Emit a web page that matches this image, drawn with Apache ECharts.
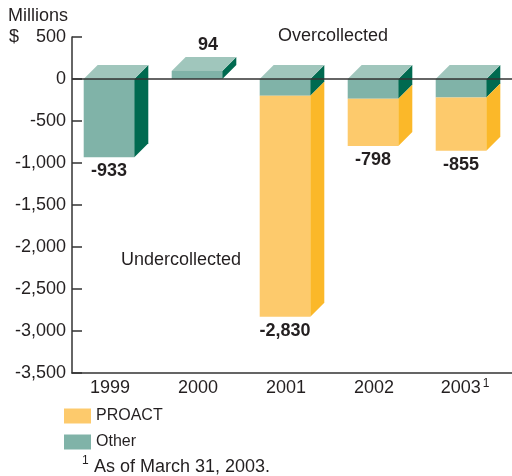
<!DOCTYPE html>
<html>
<head>
<meta charset="utf-8">
<script src="https://cdn.jsdelivr.net/npm/echarts@6/dist/echarts.min.js"></script>
<style>
  html, body { margin: 0; padding: 0; background: #fff; }
  #chart { width: 512px; height: 476px; }
</style>
</head>
<body>
<div id="chart"></div>
<script>
// Over/under-collection by year, $ millions
const years = ['1999', '2000', '2001', '2002', '2003'];
const otherValues = [-933, 94, -200, -235, -220];
const proactValues = [0, 0, -2630, -563, -635];
const yTicks = { min: -3500, max: 500, step: 500 };

const FONT = '"Liberation Sans", Arial, Helvetica, sans-serif';
const TEXT = '#231f20';

const palette = {
  other: { front: '#80b3a8', side: '#006a50', top: '#a0c6bc' },
  proact: { front: '#fdca6c', side: '#fbb829' }
};

// Rows: [categoryIndex, segmentStart, segmentEnd, labelOwner, total]
const totals = years.map((_, i) => otherValues[i] + proactValues[i]);
const otherRows = years.map((_, i) => [i, 0, otherValues[i], proactValues[i] === 0 ? 1 : 0, totals[i]]);
const proactRows = years.map((_, i) => [i, otherValues[i], otherValues[i] + proactValues[i], 1, totals[i]]);

function fmt(v) {
  const s = Math.abs(v).toString().replace(/\B(?=(\d{3})+(?!\d))/g, ',');
  return (v < 0 ? '-' : '') + s;
}

const DEPTH = 14;
const FRONT_RATIO = 0.575;

// front face + right side of one stacked segment
function boxFaces(api, colors) {
  const idx = api.value(0);
  const band = api.size([1, 0])[0];
  const frontW = band * FRONT_RATIO;
  const center = api.coord([idx, 0])[0];
  const x0 = center - (frontW + DEPTH) / 2, x1 = x0 + frontW;
  const ya = api.coord([idx, api.value(1)])[1], yb = api.coord([idx, api.value(2)])[1];
  const yTop = Math.min(ya, yb), yBot = Math.max(ya, yb);
  return {
    center, x0, x1, frontW, yTop, yBot,
    children: [
      { type: 'rect', shape: { x: x0, y: yTop, width: frontW, height: yBot - yTop }, style: { fill: colors.front } },
      { type: 'polygon', shape: { points: [[x1, yTop], [x1 + DEPTH, yTop - DEPTH], [x1 + DEPTH, yBot - DEPTH], [x1, yBot]] },
        style: { fill: colors.side } }
    ]
  };
}

function valueLabel(b, total) {
  if (total >= 0) {
    return { type: 'text', style: { text: fmt(total), x: b.center + 4, y: b.yTop - DEPTH - 3,
      align: 'center', verticalAlign: 'bottom', fill: TEXT, font: 'bold 18px ' + FONT } };
  }
  return { type: 'text', style: { text: fmt(total), x: b.x0 + b.frontW / 2, y: b.yBot + 5,
    align: 'center', verticalAlign: 'top', fill: TEXT, font: 'bold 18px ' + FONT } };
}

// Other is always the first segment, so it also carries the top face
function otherRender(params, api) {
  const b = boxFaces(api, palette.other);
  b.children.push({ type: 'polygon',
    shape: { points: [[b.x0, b.yTop], [b.x0 + DEPTH, b.yTop - DEPTH], [b.x1 + DEPTH, b.yTop - DEPTH], [b.x1, b.yTop]] },
    style: { fill: palette.other.top } });
  if (api.value(3) === 1) b.children.push(valueLabel(b, api.value(4)));
  return { type: 'group', children: b.children };
}

function proactRender(params, api) {
  if (api.value(1) === api.value(2)) return null;
  const b = boxFaces(api, palette.proact);
  b.children.push(valueLabel(b, api.value(4)));
  return { type: 'group', children: b.children };
}

const chart = echarts.init(document.getElementById('chart'), null, { renderer: 'canvas' });

const option = {
  animation: false,
  backgroundColor: '#fff',
  textStyle: { fontFamily: FONT, color: TEXT },
  grid: { left: 72, right: -3, top: 37, height: 336, containLabel: false },
  legend: {
    orient: 'vertical', left: 59, top: 403,
    itemWidth: 27, itemHeight: 15, itemGap: 10,
    icon: 'rect',
    data: ['PROACT', 'Other'],
    textStyle: { fontFamily: FONT, fontSize: 16, color: TEXT, padding: [2, 0, 0, 0] }
  },
  xAxis: {
    type: 'category',
    data: years,
    position: 'bottom',
    axisLine: { onZero: false, lineStyle: { color: '#333', width: 1.5 } },
    axisTick: { show: false },
    axisLabel: {
      margin: 5,
      interval: 0,
      formatter: function (v, i) {
        return i === years.length - 1 ? '{b|' + v + '}{s|1}' : '{a|' + v + '}';
      },
      rich: {
        a: { fontFamily: FONT, fontSize: 18, color: TEXT, lineHeight: 20, padding: [0, 12, 0, 0] },
        b: { fontFamily: FONT, fontSize: 18, color: TEXT, lineHeight: 20 },
        s: { fontFamily: FONT, fontSize: 12, color: TEXT, lineHeight: 12, verticalAlign: 'top', padding: [0, 6, 0, 2] }
      }
    }
  },
  yAxis: {
    type: 'value',
    min: yTicks.min, max: yTicks.max, interval: yTicks.step,
    axisLine: { show: true, lineStyle: { color: '#333', width: 1.5 } },
    axisTick: { show: true, inside: true, length: 10, lineStyle: { color: '#333', width: 1.5 } },
    splitLine: { show: false },
    axisLabel: { margin: 6, fontFamily: FONT, fontSize: 18, color: TEXT, formatter: fmt }
  },
  graphic: [
    { type: 'text', left: 8, top: 7, style: { text: 'Millions', font: '18px ' + FONT, fill: TEXT } },
    { type: 'text', left: 9, top: 28, style: { text: '$', font: '18px ' + FONT, fill: TEXT } },
    { type: 'text', left: 278, top: 27, style: { text: 'Overcollected', font: '18px ' + FONT, fill: TEXT } },
    { type: 'text', left: 121, top: 251, style: { text: 'Undercollected', font: '18px ' + FONT, fill: TEXT } },
    { type: 'text', left: 82, top: 455, style: { text: '1', font: '12px ' + FONT, fill: TEXT } },
    { type: 'text', left: 94, top: 458, style: { text: 'As of March 31, 2003.', font: '18px ' + FONT, fill: TEXT } }
  ],
  series: [
    {
      name: 'Other', type: 'custom', renderItem: otherRender,
      itemStyle: { color: palette.other.front },
      encode: { x: 0, y: [1, 2] },
      data: otherRows,
      z: 2,
      markLine: {
        silent: true, symbol: 'none', label: { show: false },
        lineStyle: { color: '#333', width: 1.5, type: 'solid' },
        data: [{ yAxis: 0 }],
        z: 10
      }
    },
    {
      name: 'PROACT', type: 'custom', renderItem: proactRender,
      itemStyle: { color: palette.proact.front },
      encode: { x: 0, y: [1, 2] },
      data: proactRows,
      z: 2
    }
  ]
};

chart.setOption(option);
</script>
</body>
</html>
